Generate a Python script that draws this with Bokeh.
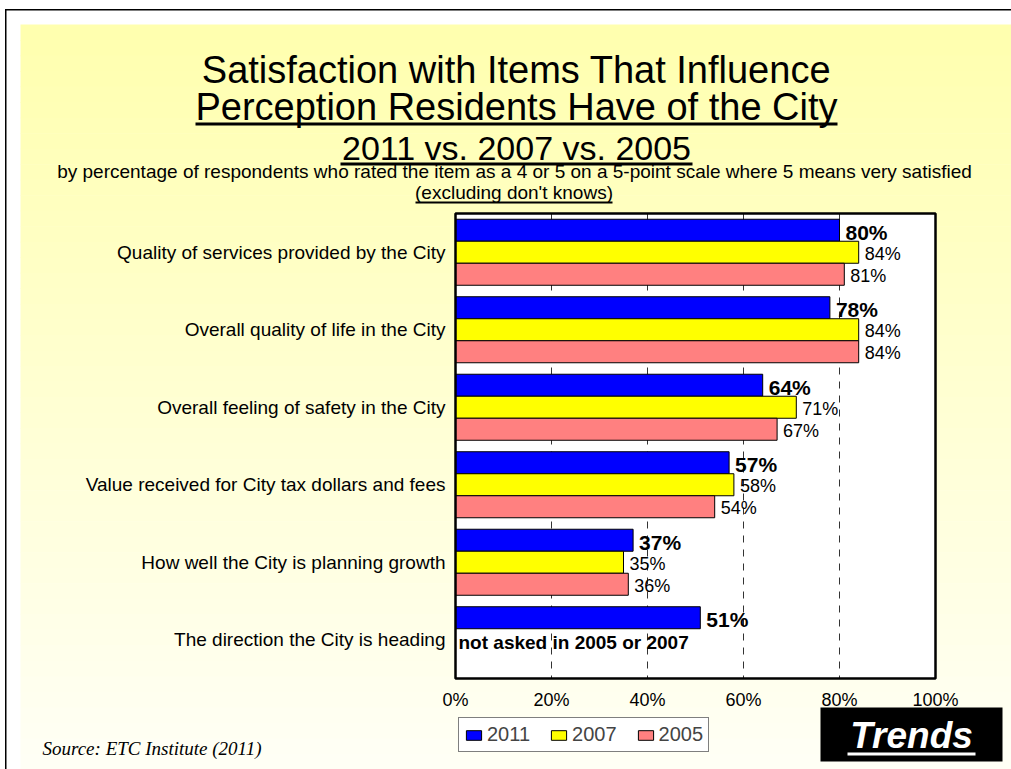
from bokeh.plotting import figure
from bokeh.models import (Range1d, ColumnDataSource, Label, BoxAnnotation,
                          FixedTicker, Legend, LegendItem)
from bokeh.transform import dodge
from bokeh.core.properties import value
from bokeh.embed import file_html
from bokeh.resources import INLINE

# ---------------- data ----------------
categories = [
    "Quality of services provided by the City",
    "Overall quality of life in the City",
    "Overall feeling of safety in the City",
    "Value received for City tax dollars and fees",
    "How well the City is planning growth",
    "The direction the City is heading",
]
years = ["2011", "2007", "2005"]
values_2011 = [80, 78, 64, 57, 37, 51]
values_2007 = [84, 84, 71, 58, 35, None]
values_2005 = [81, 84, 67, 54, 36, None]
x_ticks = [0, 20, 40, 60, 80, 100]
x_tick_labels = ["0%", "20%", "40%", "60%", "80%", "100%"]
note_category = "The direction the City is heading"
note_text = "not asked in 2005 or 2007"

title_lines = ["Satisfaction with Items That Influence",
               "Perception Residents Have of the City",
               "2011 vs. 2007 vs. 2005"]
subtitle = ("by percentage of respondents who rated the item as a 4 or 5 on a "
            "5-point scale where 5 means very satisfied")
subtitle2 = "(excluding don't knows)"
source_text = "Source:  ETC Institute (2011)"
badge_text = "Trends"

# ---------------- layout / style ----------------
W, H = 1011, 769
FL, FW, FT, FH = 455, 480, 213, 465          # chart box in canvas pixels
SANS = "Liberation Sans"
SERIF = "Liberation Serif"
bar_colors = ["#0000FF", "#FFFF00", "#FF8080"]
bar_h = 0.284
offsets = [bar_h, 0.0, -bar_h]

ncat = len(categories)
cat_pos = {c: ncat - 0.5 - i for i, c in enumerate(categories)}  # top to bottom
XMAX = x_ticks[-1]
xs = XMAX / FW          # data units per pixel
ys = ncat / FH

p = figure(width=W, height=H, output_backend="svg", toolbar_location=None,
           x_range=Range1d(-FL * xs, (W - FL) * xs),
           y_range=Range1d(-(H - FT - FH) * ys, ncat + FT * ys),
           min_border=0)
p.border_fill_color = "white"
p.background_fill_color = "white"
p.outline_line_color = None
p.xgrid.visible = False
p.ygrid.visible = False

# canvas-pixel helper ranges (frame == whole canvas)
p.extra_x_ranges = {"cx": Range1d(0, W)}
p.extra_y_ranges = {"cy": Range1d(H, 0)}

def box(x0, x1, y0, y1, color="black", level="annotation"):
    p.add_layout(BoxAnnotation(left=x0, right=x1, top=y0, bottom=y1, x_range_name="cx",
                               y_range_name="cy", fill_color=color, fill_alpha=1,
                               line_color=None, level=level))

# background gradient
top_rgb = (255, 255, 174)
bot_rgb = (255, 255, 246)
y_start, y_end = 24, H
n = 48
for k in range(n):
    y0 = y_start + (y_end - y_start) * k / n
    y1 = y_start + (y_end - y_start) * (k + 1) / n
    t = (k + 0.5) / n
    c = tuple(int(round(a + (b - a) * t)) for a, b in zip(top_rgb, bot_rgb))
    box(20, W, y0, y1 + 0.6, color="#%02x%02x%02x" % c, level="underlay")

# outer border lines
box(5, W, 8.5, 10, level="underlay")
box(4.5, 6, 8.5, H, level="underlay")

# chart box (white)
p.add_layout(BoxAnnotation(left=0, right=XMAX, bottom=0, top=ncat, fill_color="white",
                           fill_alpha=1, line_color=None, level="underlay"))

# axes placed at the chart box edges
for ax in (p.xaxis[0], p.yaxis[0]):
    ax.fixed_location = 0
    ax.axis_line_color = None
    ax.major_tick_line_color = None
    ax.minor_tick_line_color = None
    ax.major_tick_out = 0
    ax.major_tick_in = 0
    ax.minor_tick_out = 0
    ax.minor_tick_in = 0
    ax.major_label_standoff = 10
    ax.major_label_text_font = SANS
    ax.major_label_text_color = "black"

p.xaxis.ticker = FixedTicker(ticks=x_ticks)
p.xaxis.major_label_overrides = {t: l for t, l in zip(x_ticks, x_tick_labels)}
p.xaxis.major_label_text_font_size = "18px"
p.xaxis.major_label_standoff = 11

p.yaxis.ticker = FixedTicker(ticks=[cat_pos[c] for c in categories])
p.yaxis.major_label_overrides = {cat_pos[c]: c for c in categories}
p.yaxis.major_label_text_font_size = "19px"

# dashed vertical gridlines inside the chart box
gsrc = ColumnDataSource(dict(x=x_ticks[1:-1], ytop=[ncat] * (len(x_ticks) - 2),
                             ybot=[0] * (len(x_ticks) - 2)))
p.segment(x0="x", y0="ytop", x1="x", y1="ybot", source=gsrc, line_color="#333333",
          line_width=1, line_dash="7 7")

# bars and value labels
series = [values_2011, values_2007, values_2005]
bar_renderers = []
for i, (yr, vals, off, col) in enumerate(zip(years, series, offsets, bar_colors)):
    cats = [c for c, v in zip(categories, vals) if v is not None]
    vs = [v for v in vals if v is not None]
    src = ColumnDataSource(dict(pos=[cat_pos[c] for c in cats], val=vs,
                                lbl=["%d%%" % v for v in vs]))
    r = p.hbar(y=dodge("pos", off), left=0, right="val", height=bar_h,
               fill_color=col, line_color="black", line_width=1, source=src)
    bar_renderers.append(r)
    bold = (i == 0)
    p.text(x="val", y=dodge("pos", off), text="lbl", source=src,
           x_offset=6, y_offset=2 if bold else 1.5, text_baseline="middle", text_align="left",
           text_font=value(SANS), text_font_size="21px" if bold else "18px",
           text_font_style="bold" if bold else "normal", text_color="black")

note_src = ColumnDataSource(dict(x=[0], pos=[cat_pos[note_category]], txt=[note_text]))
p.text(x="x", y="pos", text="txt", source=note_src, x_offset=3, y_offset=3,
       text_baseline="middle", text_align="left", text_font=value(SANS),
       text_font_size="19px", text_font_style="bold", text_color="black")

# chart box outline on top
p.add_layout(BoxAnnotation(left=0, right=XMAX, bottom=0, top=ncat, fill_alpha=0,
                           line_color="black", line_alpha=1, line_width=2.5,
                           level="annotation"))

# legend
legend = Legend(items=[LegendItem(label=y, renderers=[r]) for y, r in zip(years, bar_renderers)],
                orientation="horizontal", location=(458, 17), margin=0, padding=5,
                spacing=19, glyph_width=19, glyph_height=12, label_standoff=4,
                label_text_font=SANS, label_text_font_size="20px",
                border_line_color="black", border_line_width=1,
                background_fill_color="white", background_fill_alpha=1)
p.add_layout(legend)

# titles
def label(x, y, text, font, size, style="normal", color="black", align="center"):
    p.add_layout(Label(x=x, y=y, x_range_name="cx", y_range_name="cy", text=text,
                       text_font=font, text_font_size=size, text_font_style=style,
                       text_color=color, text_align=align, text_baseline="middle"))

label(516, 69, title_lines[0], SANS, "38px")
label(516, 106, title_lines[1], SANS, "38px")
box(195, 837, 122, 125)
label(516, 147, title_lines[2], SANS, "34px")
box(340, 692, 162, 165)
label(514, 170.5, subtitle, SANS, "19px")
label(513.5, 191.5, subtitle2, SANS, "19px")
box(415, 612, 201, 203)

# source
label(42, 748, source_text, SERIF, "19px", style="italic", align="left")

# trends badge
box(820, 1002, 707, 761)
label(911, 735, badge_text, SANS, "37px", style="bold italic", color="white")
box(847, 975, 752, 755, color="white")

open("out.html", "w").write(file_html(p, INLINE))
